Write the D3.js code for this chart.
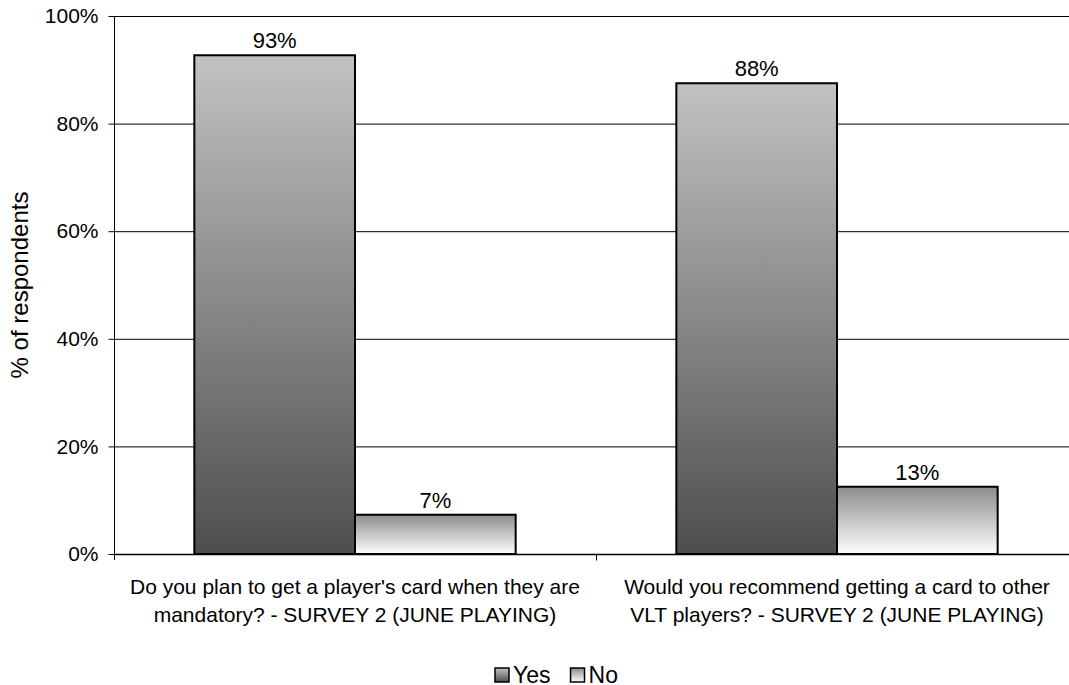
<!DOCTYPE html>
<html lang="en">
<head>
<meta charset="UTF-8">
<script src="https://d3js.org/d3.v7.min.js"></script>
<title>Survey chart</title>
<style>
  body { margin: 0; background: #fff; }
  text { font-family: "Liberation Sans", Arial, sans-serif; fill: #000; }
</style>
</head>
<body>
<svg width="1069" height="685" id="mainsvg"></svg>
<script>
const categories = [
  ["Do you plan to get a player's card when they are", "mandatory? - SURVEY 2 (JUNE PLAYING)"],
  ["Would you recommend getting a card to other", "VLT players? - SURVEY 2 (JUNE PLAYING)"]
];
const seriesNames = ['Yes', 'No'];
const yesValues = [92.7, 87.5];
const noValues = [7.3, 12.5];
const valueLabels = [['93%', '7%'], ['88%', '13%']];
const yTicks = [0, 20, 40, 60, 80, 100];

const svg = d3.select('#mainsvg');
const margin = { top: 16, left: 114, bottom: 131 };
const innerWidth = 964;
const innerHeight = 685 - margin.top - margin.bottom;

const defs = svg.append('defs');
const gYes = defs.append('linearGradient').attr('id', 'gradYes')
  .attr('x1', 0).attr('y1', 0).attr('x2', 0).attr('y2', 1);
gYes.append('stop').attr('offset', '0%').attr('stop-color', '#c2c2c2');
gYes.append('stop').attr('offset', '100%').attr('stop-color', '#4e4e4e');
const gNo = defs.append('linearGradient').attr('id', 'gradNo')
  .attr('x1', 0).attr('y1', 0).attr('x2', 0).attr('y2', 1);
gNo.append('stop').attr('offset', '0%').attr('stop-color', '#8c8c8c');
gNo.append('stop').attr('offset', '100%').attr('stop-color', '#ffffff');
const fills = ['url(#gradYes)', 'url(#gradNo)'];

const data = categories.map((c, i) => ({
  idx: i,
  values: [yesValues[i], noValues[i]]
}));

const x0 = d3.scaleBand().domain(d3.range(categories.length)).range([0, innerWidth]);
const x1 = d3.scaleBand().domain(d3.range(seriesNames.length))
  .range([0, x0.bandwidth()]).paddingOuter(0.5).paddingInner(0);
const y = d3.scaleLinear().domain([0, 100]).range([innerHeight, 0]);

const g = svg.append('g').attr('transform', `translate(${margin.left}, ${margin.top})`);

// gridlines
g.selectAll('.grid').data(yTicks.filter(t => t > 0)).enter().append('line')
  .attr('x1', 0).attr('x2', innerWidth)
  .attr('y1', d => y(d) + 0.5).attr('y2', d => y(d) + 0.5)
  .attr('stroke', '#000').attr('stroke-width', 1);

// y axis
const yAxis = d3.axisLeft(y).tickValues(yTicks).tickFormat(d => d + '%').tickSize(6).tickPadding(10);
const ya = g.append('g').attr('transform', 'translate(0.5,0)').call(yAxis);
ya.select('.domain').attr('d', `M0,0V${innerHeight + 6}`).attr('stroke', '#000');
ya.selectAll('.tick line').attr('stroke', '#000');
ya.selectAll('.tick text').attr('font-size', 21).style('font-family', '"Liberation Sans", Arial, sans-serif');

// bars
const groups = g.selectAll('.cat').data(data).enter().append('g')
  .attr('transform', d => `translate(${x0(d.idx)},0)`);
groups.selectAll('rect').data(d => d.values.map((v, k) => ({ v, k, cat: d.idx }))).enter().append('rect')
  .attr('x', d => x1(d.k))
  .attr('y', d => y(d.v))
  .attr('width', x1.bandwidth())
  .attr('height', d => innerHeight - y(d.v))
  .attr('fill', d => fills[d.k])
  .attr('stroke', '#000').attr('stroke-width', 2);
groups.selectAll('.lbl').data(d => d.values.map((v, k) => ({ v, k, cat: d.idx }))).enter().append('text')
  .attr('x', d => x1(d.k) + x1.bandwidth() / 2)
  .attr('y', d => y(d.v) - 7)
  .attr('text-anchor', 'middle').attr('font-size', 22)
  .text(d => valueLabels[d.cat][d.k]);

// x axis
const xa = g.append('g').attr('transform', `translate(0,${innerHeight + 0.5})`);
xa.append('line').attr('x1', 0).attr('x2', innerWidth).attr('stroke', '#000').attr('stroke-width', 1.5);
xa.selectAll('.xt').data(d3.range(1, categories.length)).enter().append('line')
  .attr('x1', d => d * x0.bandwidth() + 0.5).attr('x2', d => d * x0.bandwidth() + 0.5)
  .attr('y1', 0).attr('y2', 6).attr('stroke', '#000');
categories.forEach((lines, i) => {
  const t = xa.append('text').attr('text-anchor', 'middle').attr('font-size', 21)
    .attr('x', x0(i) + x0.bandwidth() / 2);
  lines.forEach((ln, j) => t.append('tspan')
    .attr('x', x0(i) + x0.bandwidth() / 2).attr('y', 39 + j * 28).text(ln));
});

// y title
svg.append('text')
  .attr('transform', `translate(28, ${margin.top + innerHeight / 2}) rotate(-90)`)
  .attr('text-anchor', 'middle').attr('font-size', 24)
  .text('% of respondents');

// legend
const legend = svg.append('g').attr('transform', 'translate(495, 668)');
let lx = 0;
seriesNames.forEach((name, k) => {
  legend.append('rect').attr('x', lx).attr('y', 0).attr('width', 14).attr('height', 14)
    .attr('fill', fills[k]).attr('stroke', '#000').attr('stroke-width', 1.5);
  const t = legend.append('text').attr('x', lx + 18).attr('y', 14.5).attr('font-size', 23).text(name);
  lx += 18 + t.node().getComputedTextLength() + 20;
});
</script>
</body>
</html>
